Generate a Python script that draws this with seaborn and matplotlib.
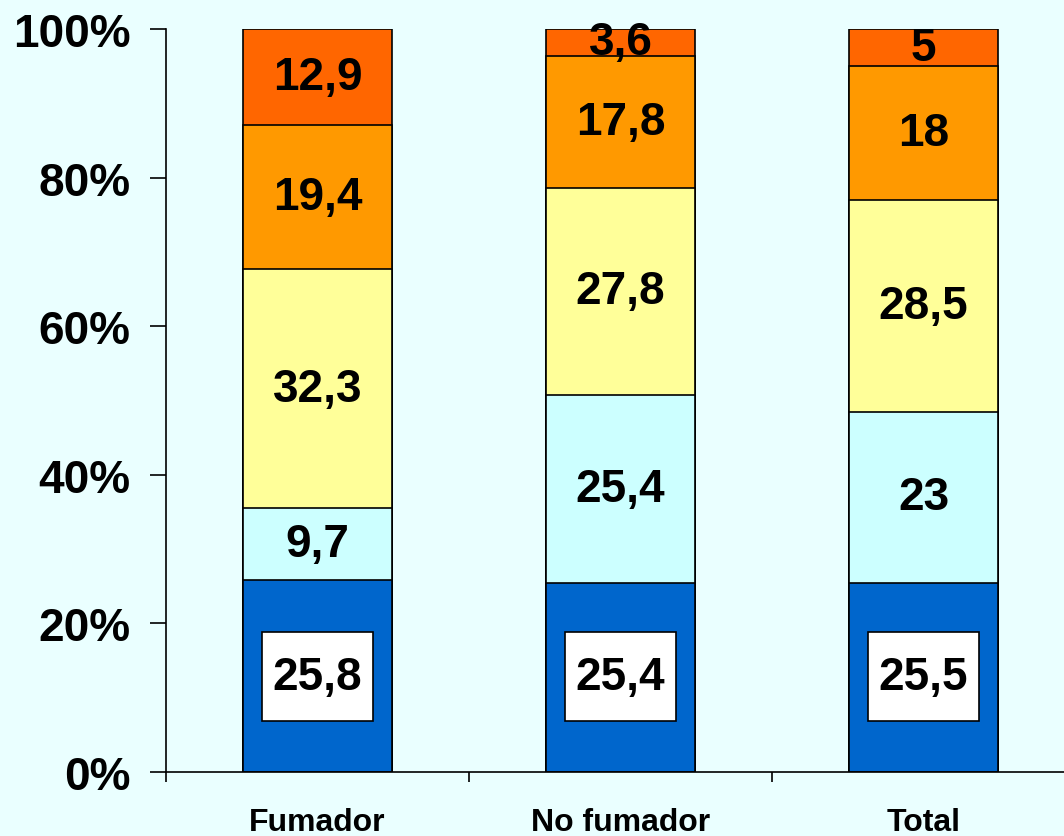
import numpy as np
import pandas as pd
import matplotlib
matplotlib.use("Agg")
import matplotlib.pyplot as plt
from matplotlib.patches import Rectangle
import seaborn as sns

# data (segments bottom -> top)
categories = ["Fumador", "No fumador", "Total"]
seg1 = [25.8, 25.4, 25.5]
seg2 = [9.7, 25.4, 23]
seg3 = [32.3, 27.8, 28.5]
seg4 = [19.4, 17.8, 18]
seg5 = [12.9, 3.6, 5]
seg_labels = [["25,8", "25,4", "25,5"],
              ["9,7", "25,4", "23"],
              ["32,3", "27,8", "28,5"],
              ["19,4", "17,8", "18"],
              ["12,9", "3,6", "5"]]
colors = ["#0066CC", "#CCFFFF", "#FFFF99", "#FF9900", "#FF6600"]
bg = "#EAFFFF"

sns.set_style("ticks")
plt.rcParams["font.family"] = ["Liberation Sans", "DejaVu Sans"]
plt.rcParams["font.weight"] = "bold"
plt.rcParams["text.color"] = "black"
plt.rcParams["xtick.color"] = "black"
plt.rcParams["ytick.color"] = "black"
plt.rcParams["xtick.labelcolor"] = "black"
plt.rcParams["ytick.labelcolor"] = "black"

vals = np.array([seg1, seg2, seg3, seg4, seg5], dtype=float)
pct = vals / vals.sum(axis=0) * 100
cum = np.cumsum(pct, axis=0)

fig = plt.figure(figsize=(10.64, 8.37), dpi=100, facecolor=bg)
ax = fig.add_axes([166 / 1064, (837 - 773) / 837, (1075 - 166) / 1064, (773 - 30) / 837])
ax.set_facecolor(bg)

width = 0.49
# draw tallest cumulative first so lower segments sit on top
for i in range(len(colors) - 1, -1, -1):
    df = pd.DataFrame({"cat": categories, "val": cum[i]})
    sns.barplot(data=df, x="cat", y="val", color=colors[i], saturation=1,
                width=width, edgecolor="black", linewidth=1.2, ax=ax)

for i in range(len(colors)):
    for j in range(len(categories)):
        bottom = cum[i][j] - pct[i][j]
        yc = bottom + pct[i][j] / 2
        if i == 0:
            # white label box inside the bottom segment
            ax.add_patch(Rectangle((j - 0.183, 6.9), 0.366, 11.9, facecolor="white",
                                   edgecolor="black", linewidth=1.2, zorder=3))
            yc = 12.8
        ax.text(j, yc, seg_labels[i][j], ha="center", va="center",
                fontsize=33, fontweight="bold", color="black", zorder=4)

ax.set_xlim(-0.5, 2.5)
ax.set_ylim(0, 100)
ax.set_yticks([0, 20, 40, 60, 80, 100])
ax.set_yticklabels(["0%", "20%", "40%", "60%", "80%", "100%"], fontsize=33, fontweight="bold")
ax.tick_params(axis="y", length=11.5, width=1.2, pad=14, colors="black")
ax.set_xticks(range(len(categories)))
ax.set_xticklabels(categories, fontsize=23, fontweight="bold")
ax.tick_params(axis="x", which="major", length=0, pad=25, colors="black")
ax.set_xticks([-0.5, 0.5, 1.5, 2.5], minor=True)
ax.tick_params(axis="x", which="minor", length=7, width=1.2, colors="black")
ax.set_xlabel("")
ax.set_ylabel("")
for s in ["top", "right"]:
    ax.spines[s].set_visible(False)
for s in ["left", "bottom"]:
    ax.spines[s].set_linewidth(1.2)
    ax.spines[s].set_color("black")

fig.savefig("out.png", dpi=100, facecolor=bg)
